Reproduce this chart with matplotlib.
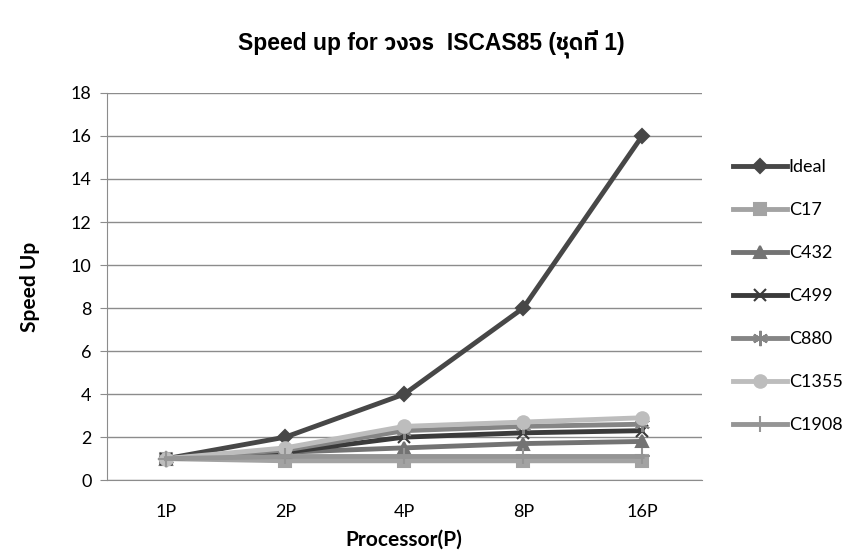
import numpy as np
import matplotlib.pyplot as plt
from matplotlib import font_manager

# find a font that can draw the Thai words in the title
thai_fonts = []
for f in font_manager.fontManager.ttflist:
    if 'thai' in f.name.lower() or 'loma' in f.name.lower() or 'garuda' in f.name.lower():
        thai_fonts.append(f.name)
thai_fonts = sorted(set(thai_fonts))

procs = ['1P', '2P', '4P', '8P', '16P']
ideal = [1, 2, 4, 8, 16]
c17 = [1, 0.9, 0.9, 0.9, 0.9]
c432 = [1, 1.3, 1.5, 1.7, 1.8]
c499 = [1, 1.3, 2.0, 2.2, 2.3]
c880 = [1, 1.4, 2.3, 2.5, 2.6]
c1355 = [1, 1.5, 2.5, 2.7, 2.9]
c1908 = [1, 1.1, 1.1, 1.1, 1.1]

series = [('Ideal', ideal, '#474747', 'D', 7),
          ('C17', c17, '#a3a3a3', 's', 8),
          ('C432', c432, '#737373', '^', 9),
          ('C499', c499, '#3a3a3a', 'x', 9),
          ('C880', c880, '#858585', (6, 2, 0), 11),
          ('C1355', c1355, '#bdbdbd', 'o', 9),
          ('C1908', c1908, '#959595', '+', 11)]

plt.rcParams['font.family'] = ['Lato', 'DejaVu Sans']

fig = plt.figure(figsize=(8.62, 5.5), dpi=100)
ax = fig.add_axes([0.124, 0.127, 0.69, 0.704])

X = np.arange(len(procs))
for name, vals, col, mk, ms in series:
    ax.plot(X, vals, color=col, lw=3.5, marker=mk, markersize=ms,
            markeredgewidth=1.5, markeredgecolor=col, label=name)

ax.set_xlim(-0.5, 4.5)
ax.set_ylim(0, 18)
ax.set_yticks(np.arange(0, 19, 2))
ax.set_xticks(X)
ax.set_xticklabels(procs)
ax.grid(axis='y', color='#8c8c8c', lw=1)
ax.set_axisbelow(True)
for s in ['top', 'right']:
    ax.spines[s].set_visible(False)
for s in ['left', 'bottom']:
    ax.spines[s].set_color('#8c8c8c')
ax.tick_params(axis='y', length=5, color='#8c8c8c', labelsize=13, pad=6)
ax.tick_params(axis='x', length=0, labelsize=13, pad=17)

ax.set_ylabel('Speed Up', fontsize=15, fontweight='bold', labelpad=22)
ax.set_xlabel('Processor(P)', fontsize=15, fontweight='bold', labelpad=7)

fam = ['Liberation Sans'] + thai_fonts + ['DejaVu Sans']
fig.text(0.5, 0.92, 'Speed up for วงจร  ISCAS85 (ชุดที่ 1)', ha='center',
         va='center', fontsize=16.5, fontweight='bold', family=fam)

ax.legend(loc='center left', bbox_to_anchor=(1.025, 0.475), frameon=False,
          fontsize=13, labelspacing=1.5, handlelength=3.0, handletextpad=0.1)

fig.savefig('out.png', dpi=100)
